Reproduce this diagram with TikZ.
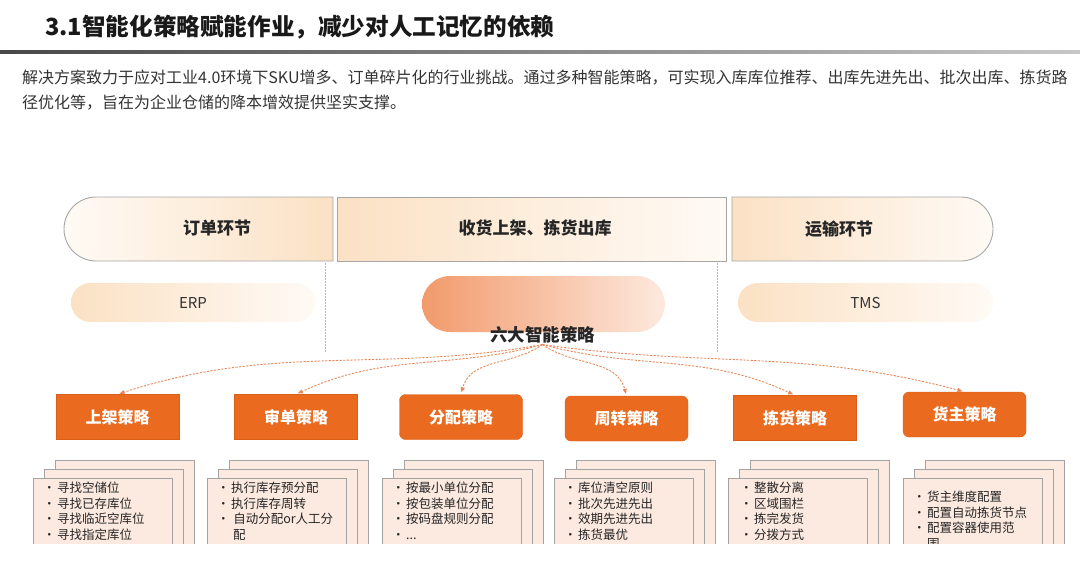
\documentclass[tikz,border=0pt]{standalone}
\usepackage{fontspec}
\setmainfont{Noto Sans CJK SC}
\usetikzlibrary{arrows.meta,positioning,shapes.misc}
\definecolor{stratorange}{HTML}{EA6B1F}
\definecolor{stratedge}{HTML}{D95E16}
\definecolor{peachdeep}{HTML}{FBE1C4}
\definecolor{peachpale}{HTML}{FFFAF5}
\definecolor{coredeep}{HTML}{F29A6C}
\definecolor{corepale}{HTML}{FDE9DE}
\definecolor{cardfill}{HTML}{FCE9E0}
\definecolor{cardedge}{HTML}{A3A3A3}
\definecolor{flowline}{HTML}{E8875A}
\definecolor{bodytext}{HTML}{333333}
\tikzset{
  >={Triangle[length=5pt,width=4pt]},
  phase/.style={draw=gray!70, line width=0.9pt, minimum height=64pt, inner sep=0pt},
  phasetext/.style={font=\fontsize{17}{20}\selectfont\bfseries, text=black!85},
  system/.style={rounded rectangle, minimum height=39pt, inner sep=0pt, left color=peachdeep, right color=peachpale, font=\fontsize{15}{18}\selectfont, text=black!80},
  strat/.style={fill=stratorange, draw=stratedge, minimum width=123pt, minimum height=45pt, inner sep=0pt, text=white, font=\fontsize{16}{18}\selectfont\bfseries},
  card/.style={draw=cardedge, line width=0.8pt, fill=cardfill, minimum width=139pt, minimum height=90pt, anchor=north west, inner sep=0pt},
  items/.style={anchor=north west, align=left, inner sep=0pt, font=\fontsize{12.5}{15.5}\selectfont, text=black!85},
  flow/.style={->, draw=flowline, line width=0.9pt, dash pattern=on 2.2pt off 1.4pt, shorten >=2pt},
  sep/.style={draw=gray!55, line width=0.7pt, dash pattern=on 1.5pt off 1.5pt},
}
\newcommand{\itm}[1]{\makebox[14pt][l]{\textbullet}#1}

\begin{document}
\begin{tikzpicture}[x=1pt, y=-1pt]
  \useasboundingbox (0,0) rectangle (1080,566);
  % heading
  \node[anchor=west, inner sep=0pt, font=\fontsize{23.6}{28}\selectfont\bfseries, text=black!90] (heading) at (45,27) {3.1智能化策略赋能作业，减少对人工记忆的依赖};
  \shade[left color=black!72, right color=black!22] (0,50.5) rectangle (1080,53.5);
  \node[anchor=west, inner sep=0pt, font=\fontsize{16}{20}\selectfont, text=bodytext] (lead1) at (22,78) {解决方案致力于应对工业4.0环境下SKU增多、订单碎片化的行业挑战。通过多种智能策略，可实现入库库位推荐、出库先进先出、批次出库、拣货路};
  \node[anchor=west, inner sep=0pt, font=\fontsize{16}{20}\selectfont, text=bodytext] (lead2) at (22,103) {径优化等，旨在为企业仓储的降本增效提供坚实支撑。};

  % phases
  \node[phase, rounded rectangle, rounded rectangle right arc=none, minimum width=269pt, left color=peachpale, right color=peachdeep] (ordr) at (198.5,229) {};
  \node[phase, minimum width=389pt, left color=peachdeep, right color=peachpale] (hand) at (531.5,229) {};
  \node[phase, rounded rectangle, rounded rectangle left arc=none, minimum width=261pt, left color=peachdeep, right color=peachpale] (ship) at (862.5,229) {};
  \node[phasetext] (ordrtext) at (217,228) {订单环节};
  \node[phasetext] (handtext) at (535,228) {收货上架、拣货出库};
  \node[phasetext] (shiptext) at (839,229) {运输环节};
  \draw[sep] (325,263) -- (325,353);
  \draw[sep] (717,263) -- (717,353);

  % systems
  \node[system, minimum width=244pt] (erp) at (193,302.5) {ERP};
  \node[system, minimum width=255pt] (tms) at (865.5,302.5) {TMS};
  \node[rounded rectangle, minimum width=243pt, minimum height=56pt, inner sep=0pt, left color=coredeep, right color=corepale] (core) at (543.5,304) {};
  \node[inner sep=1pt, font=\fontsize{17.5}{20}\selectfont\bfseries, text=black!85] (coretext) at (542.5,335) {六大智能策略};

  % strategies
  \node[strat] (s1) at (117.5,417) {上架策略};
  \node[strat] (s2) at (296,417) {审单策略};
  \node[strat, rounded corners=6pt] (s3) at (461,417) {分配策略};
  \node[strat, rounded corners=6pt] (s4) at (626.5,418.5) {周转策略};
  \node[strat] (s5) at (795,418) {拣货策略};
  \node[strat, rounded corners=6pt] (s6) at (964.5,414.5) {货主策略};
  \draw[flow] (coretext.south) to[out=190,in=18] (s1.north);
  \draw[flow] (coretext.south) to[out=195,in=25] (s2.north);
  \draw[flow] (coretext.south) to[out=215,in=75] (s3.north);
  \draw[flow] (coretext.south) to[out=-35,in=105] (s4.north);
  \draw[flow] (coretext.south) to[out=-15,in=155] (s5.north);
  \draw[flow] (coretext.south) to[out=-8,in=165] (s6.north);

  % detail cards
  \begin{scope}
    \clip (0,0) rectangle (1080,543);
    \foreach \sx/\nm in {33/a,207/b,382/c,554/d,728/e,903/f}{
      \foreach \k in {2,1,0}{
        \node[card] (card\nm\k) at (\sx+11*\k, 478-9*\k) {};
      }
    }
    \node[items] (lista) at (43,482) {\itm{寻找空储位}\\\itm{寻找已存库位}\\\itm{寻找临近空库位}\\\itm{寻找指定库位}};
    \node[items] (listb) at (217,482) {\itm{执行库存预分配}\\\itm{执行库存周转}\\\itm{\,自动分配or人工分}\\\hspace*{16pt}配};
    \node[items] (listc) at (392,482) {\itm{按最小单位分配}\\\itm{按包装单位分配}\\\itm{按码盘规则分配}\\\itm{...}};
    \node[items] (listd) at (564,482) {\itm{库位清空原则}\\\itm{批次先进先出}\\\itm{效期先进先出}\\\itm{拣货最优}};
    \node[items] (liste) at (740,482) {\itm{整散分离}\\\itm{区域围栏}\\\itm{拣完发货}\\\itm{分拨方式}};
    \node[items] (listf) at (913,491) {\itm{货主维度配置}\\\itm{配置自动拣货节点}\\\itm{配置容器使用范}\\\hspace*{14pt}围};
  \end{scope}
\end{tikzpicture}
\end{document}
